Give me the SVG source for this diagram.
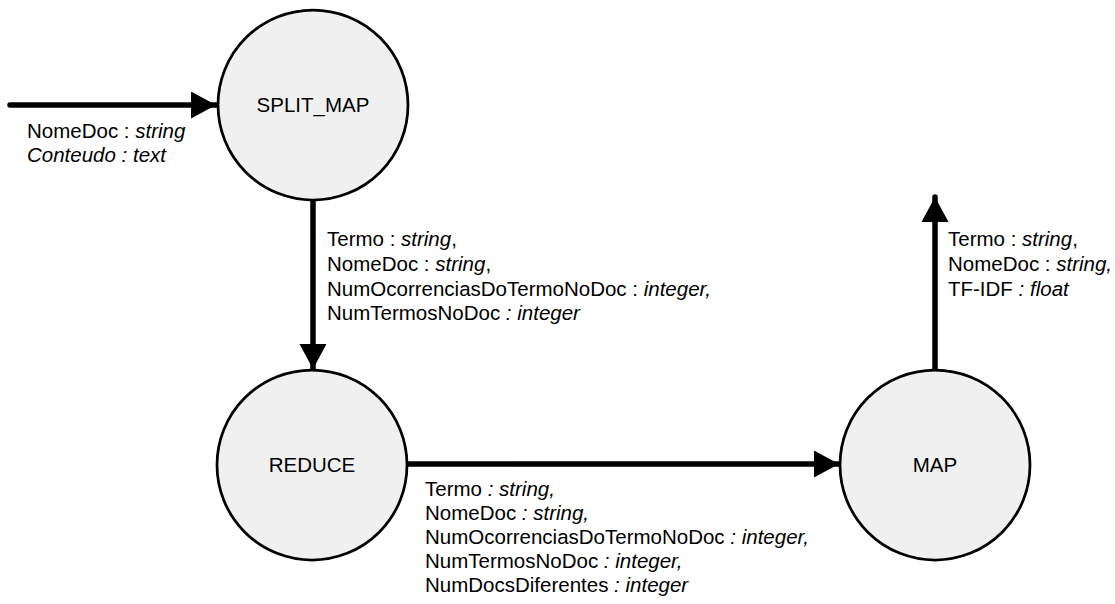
<svg xmlns="http://www.w3.org/2000/svg" width="1115" height="604" viewBox="0 0 1115 604">
<style>
.node{fill:#f0f0f0;stroke:#000;stroke-width:2.75}
.edge{stroke:#000;stroke-width:5.5;fill:none;stroke-linecap:round}
text{font-family:"Liberation Sans",Arial,sans-serif;font-size:20.5px;fill:#000}
.c{text-anchor:middle}
.i{font-style:italic}
</style>
<defs>
<marker id="ah" markerUnits="userSpaceOnUse" markerWidth="28" markerHeight="28" refX="25" refY="13.5" orient="auto">
<path d="M0,0 L25,13.5 L0,27 Z" fill="#000"/>
</marker>
</defs>
<rect width="1115" height="604" fill="#fff"/>
<g id="connectors">
<line class="edge" x1="10" y1="105" x2="216" y2="105" marker-end="url(#ah)"/>
<line class="edge" x1="313" y1="201" x2="313" y2="369" marker-end="url(#ah)"/>
<line class="edge" x1="407" y1="464" x2="839" y2="464" marker-end="url(#ah)"/>
<line class="edge" x1="935" y1="369" x2="935" y2="197" marker-end="url(#ah)"/>
</g>
<g id="labels">
<text x="27" y="138">NomeDoc : <tspan class="i">string</tspan></text>
<text x="27" y="162" class="i">Conteudo : text</text>
<text x="327" y="246">Termo : <tspan class="i">string</tspan>,</text>
<text x="327" y="271">NomeDoc : <tspan class="i">string</tspan>,</text>
<text x="327" y="296">NumOcorrenciasDoTermoNoDoc : <tspan class="i">integer,</tspan></text>
<text x="327" y="320">NumTermosNoDoc<tspan class="i"> : integer</tspan></text>
<text x="425" y="496">Termo<tspan class="i"> : string,</tspan></text>
<text x="425" y="520">NomeDoc<tspan class="i"> : string,</tspan></text>
<text x="425" y="544">NumOcorrenciasDoTermoNoDoc<tspan class="i"> : integer,</tspan></text>
<text x="425" y="568">NumTermosNoDoc<tspan class="i"> : integer,</tspan></text>
<text x="425" y="592">NumDocsDiferentes<tspan class="i"> : integer</tspan></text>
<text x="948" y="246">Termo : <tspan class="i">string</tspan>,</text>
<text x="948" y="271">NomeDoc : <tspan class="i">string,</tspan></text>
<text x="948" y="296">TF-IDF<tspan class="i"> : float</tspan></text>
</g>
<g id="split_map">
<circle class="node" cx="313" cy="105" r="95"/>
<text class="c" x="313" y="112">SPLIT_MAP</text>
</g>
<g id="reduce">
<circle class="node" cx="312" cy="465" r="95"/>
<text class="c" x="312" y="472">REDUCE</text>
</g>
<g id="map">
<circle class="node" cx="935" cy="465" r="95"/>
<text class="c" x="935" y="472">MAP</text>
</g>
</svg>
